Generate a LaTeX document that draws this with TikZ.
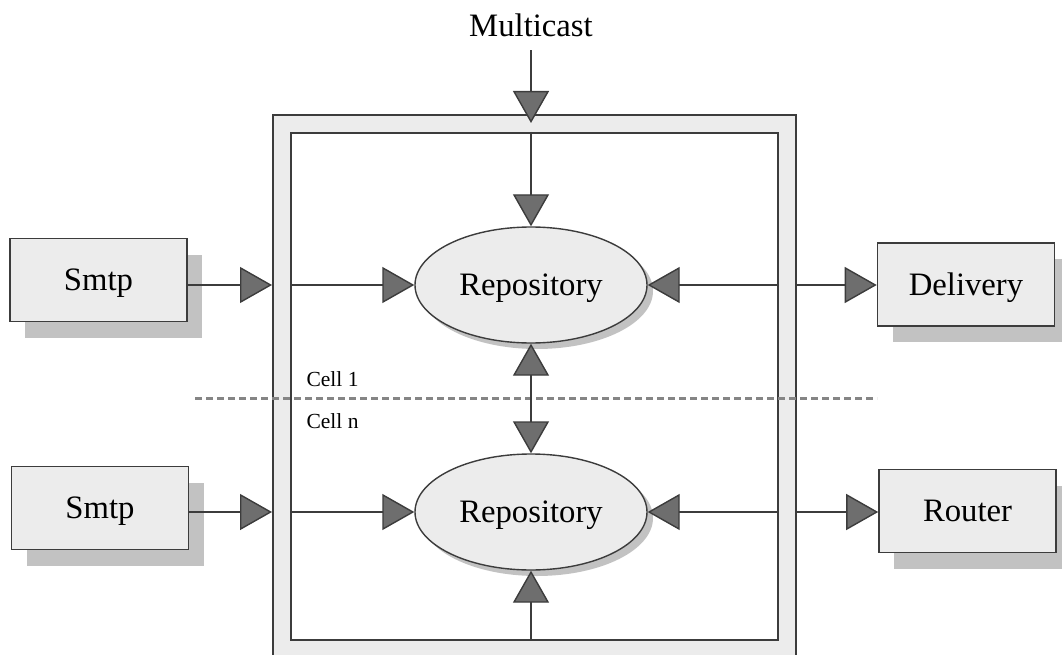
\documentclass[tikz,border=0pt]{standalone}
\usepackage{fontspec}
\setmainfont{Liberation Serif}
\usetikzlibrary{arrows.meta,shapes.geometric,shadows}
\definecolor{boxfill}{HTML}{ECECEC}
\definecolor{shadowc}{HTML}{C2C2C2}
\definecolor{linec}{HTML}{3C3C3C}
\definecolor{tipfill}{HTML}{6E6E6E}
\definecolor{dashc}{HTML}{858585}
\tikzset{
  big/.style={font=\fontsize{32.7}{36}\selectfont},
  small/.style={font=\fontsize{21.5}{24}\selectfont},
  procbox/.style={draw=linec, line width=1.6pt, fill=boxfill, minimum width=177pt, minimum height=83pt, big, text depth=0pt,
    drop shadow={shadow xshift=15pt, shadow yshift=-16pt, fill=shadowc, opacity=1}},
  repo/.style={ellipse, draw=linec, line width=1.4pt, fill=boxfill, minimum width=232pt, minimum height=116pt, inner sep=0pt, big, text depth=0pt,
    drop shadow={shadow xshift=6pt, shadow yshift=-6pt, fill=shadowc, opacity=1}},
  frame/.style={draw=linec, line width=1.8pt, inner sep=0pt, anchor=north west},
  conn/.style={draw=linec, line width=1.4pt},
  arr/.style={conn, -{Triangle[length=32pt, width=36pt, fill=tipfill]}},
  arrb/.style={conn, {Triangle[length=32pt, width=36pt, fill=tipfill]}-{Triangle[length=32pt, width=36pt, fill=tipfill]}},
}
\begin{document}
\begin{tikzpicture}[x=1pt, y=-1pt]
\useasboundingbox (0,0) rectangle (1062,655);
% frames
\node[frame, fill=boxfill, minimum width=523pt, minimum height=590pt] (outer) at (272,114) {};
\node[frame, fill=white, minimum width=487pt, minimum height=507pt] (inner) at (290,132) {};
% dashed separator
\coordinate (dl) at (195,398);
\coordinate (dr) at (877,398);
\draw[dashc, line width=3pt, dash pattern=on 7pt off 4pt] (dl) -- (dr);
\node[small, anchor=west] (c1) at (303,379) {Cell 1};
\node[small, anchor=west] (cn) at (303,421) {Cell n};
% nodes
\node[big] (mc) at (531,25) {Multicast};
\node[procbox] (smtp1) at (98.5,280) {Smtp};
\node[procbox] (smtp2) at (100,508) {Smtp};
\node[procbox] (deliv) at (966,284.5) {Delivery};
\node[procbox] (router) at (967.5,511) {Router};
\node[repo] (rep1) at (531,285) {Repository};
\node[repo] (rep2) at (531,512) {Repository};
% connectors
\draw[arr] ([yshift=-10pt]mc.south) -- ([yshift=-9pt]mc.south |- outer.north);
\draw[arr] (mc.south |- inner.north) -- (rep1.north);
\draw[arr] (smtp1.east |- rep1) -- (outer.west |- rep1);
\draw[arr] (inner.west |- rep1) -- (rep1.west);
\draw[arr] (inner.east |- rep1) -- (rep1.east);
\draw[arr] (outer.east |- rep1) -- (deliv.west |- rep1);
\draw[arrb] (rep1.south) -- (rep2.north);
\draw[arr] (smtp2.east |- rep2) -- (outer.west |- rep2);
\draw[arr] (inner.west |- rep2) -- (rep2.west);
\draw[arr] (inner.east |- rep2) -- (rep2.east);
\draw[arr] (outer.east |- rep2) -- (router.west |- rep2);
\draw[arr] (inner.south -| rep2) -- (rep2.south);
\end{tikzpicture}
\end{document}
